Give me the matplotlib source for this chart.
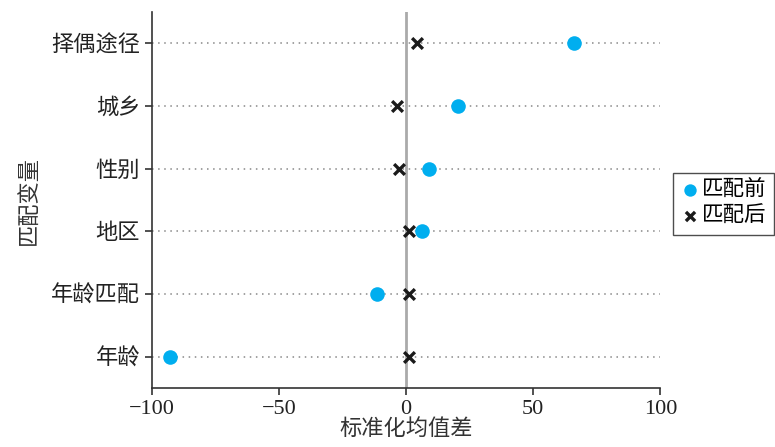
import matplotlib
matplotlib.use("Agg")
import matplotlib.pyplot as plt

plt.rcParams['font.family'] = ['Liberation Serif', 'Noto Sans CJK SC', 'DejaVu Sans']
plt.rcParams['axes.unicode_minus'] = True

variables = ['年龄', '年龄匹配', '地区', '性别', '城乡', '择偶途径']
before = [-93, -11.5, 6.3, 9, 20.4, 66]
after = [1, 1, 1.2, -2.7, -3.5, 4.3]
xticks = [-100, -50, 0, 50, 100]

fig = plt.figure(figsize=(7.75, 4.47), dpi=100)
ax = fig.add_axes([0.196, 0.132, 0.656, 0.841])

ypos = list(range(len(variables)))
for y in ypos:
    ax.axhline(y, color='#888888', linestyle=(0, (1, 3)), linewidth=1.1, zorder=1)
ax.axvline(0, color='#aaaaaa', linewidth=2, zorder=2)

ax.scatter(before, ypos, s=110, color='#00AEEF', marker='o', label='匹配前', zorder=3, linewidths=0)
ax.scatter(after, ypos, s=60, color='#1a1a1a', marker='x', label='匹配后', zorder=4, linewidths=2.4)

ax.set_xlim(-100, 100)
ax.set_ylim(-0.5, 5.5)
ax.set_xticks(xticks)
ax.set_yticks(ypos)
ax.set_yticklabels(variables)
ax.tick_params(axis='both', labelsize=16, length=5, width=1.2, color='#333333', labelcolor='#222222')
for s in ['top', 'right']:
    ax.spines[s].set_visible(False)
for s in ['left', 'bottom']:
    ax.spines[s].set_color('#333333')
    ax.spines[s].set_linewidth(1.2)

ax.set_xlabel('标准化均值差', fontsize=16, color='#333333', labelpad=0)
ax.set_ylabel('匹配变量', fontsize=16, color='#333333', labelpad=8)

leg = ax.legend(loc='center left', bbox_to_anchor=(1.025, 0.49), fontsize=15.5, frameon=True,
                fancybox=False, edgecolor='#222222', handletextpad=0.1, borderpad=0.35,
                labelspacing=0.3, handlelength=0.9, borderaxespad=0, markerscale=0.85)
leg.get_frame().set_linewidth(1.0)

fig.savefig('out.png', dpi=100)
